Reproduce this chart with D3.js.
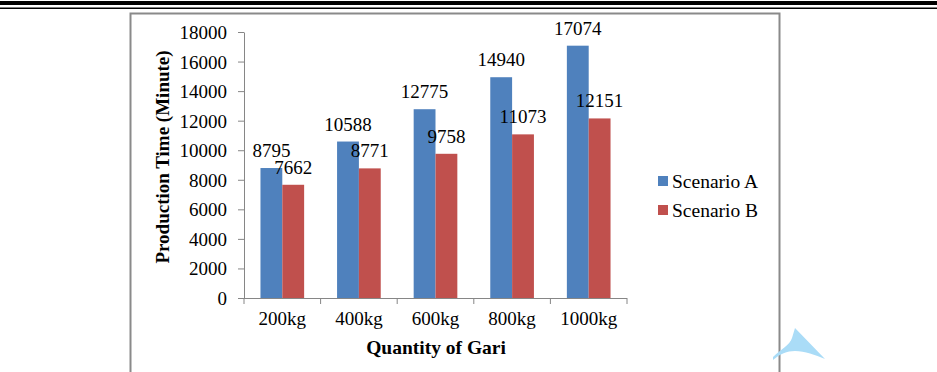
<!DOCTYPE html>
<html lang="en">
<head>
  <meta charset="UTF-8">
  <title>Production Time by Quantity of Gari</title>
  <script src="https://d3js.org/d3.v7.min.js"></script>
  <style>
    body { margin: 0; background: #fff; }
    svg { display: block; }
    .axis path, .axis line { stroke: #868686; }
  </style>
</head>
<body>
  <script>
    const categories = ["200kg", "400kg", "600kg", "800kg", "1000kg"];
    const seriesNames = ["Scenario A", "Scenario B"];
    const scenarioA = [8795, 10588, 12775, 14940, 17074];
    const scenarioB = [7662, 8771, 9758, 11073, 12151];
    const yTicks = [0, 2000, 4000, 6000, 8000, 10000, 12000, 14000, 16000, 18000];
    const colors = ["#4F81BD", "#C0504D"];

    const FONT = "'Liberation Serif', 'Times New Roman', Times, serif";
    const width = 937, height = 372;
    const plot = {left: 244, right: 627, top: 32, bottom: 298};

    const svg = d3.select("body").append("svg")
      .attr("width", width)
      .attr("height", height)
      .style("font-family", FONT);

    // page header rules
    svg.append("rect").attr("x", 0).attr("y", 1).attr("width", width).attr("height", 4).attr("fill", "#000");
    svg.append("rect").attr("x", 0).attr("y", 7.5).attr("width", width).attr("height", 1.5).attr("fill", "#000");

    // chart frame
    svg.append("rect")
      .attr("x", 130.5).attr("y", 13.5)
      .attr("width", 649).attr("height", 400)
      .attr("fill", "none")
      .attr("stroke", "#8a8a8a")
      .attr("stroke-width", 2);

    const x = d3.scaleBand()
      .domain(categories)
      .range([plot.left, plot.right])
      .paddingInner(0.43)
      .paddingOuter(0.215);

    const xs = d3.scaleBand()
      .domain(seriesNames)
      .range([0, x.bandwidth()]);

    const y = d3.scaleLinear()
      .domain([0, 18000])
      .range([plot.bottom, plot.top]);

    // y axis
    const yAxis = svg.append("g")
      .attr("class", "axis")
      .attr("transform", "translate(" + plot.left + ",0)")
      .call(d3.axisLeft(y).tickValues(yTicks).tickFormat(d3.format("d"))
        .tickSize(6).tickSizeOuter(0).tickPadding(11));
    yAxis.attr("font-family", null).attr("font-size", null);
    yAxis.selectAll("text")
      .style("font-family", FONT)
      .style("font-size", "19px")
      .attr("fill", "#000")
      .attr("dy", "0.34em");

    // x axis line with ticks between categories
    const step = x.step();
    const boundaries = categories.map(c => x(c) - (step - x.bandwidth()) / 2).concat([plot.right]);
    const xAxis = svg.append("g").attr("class", "axis");
    xAxis.append("line")
      .attr("x1", plot.left).attr("x2", plot.right)
      .attr("y1", plot.bottom + 0.5).attr("y2", plot.bottom + 0.5);
    xAxis.selectAll(".tick")
      .data(boundaries)
      .enter().append("line")
        .attr("x1", d => d).attr("x2", d => d)
        .attr("y1", plot.bottom).attr("y2", plot.bottom + 6);
    xAxis.selectAll(".cat")
      .data(categories)
      .enter().append("text")
        .attr("x", d => x(d) + x.bandwidth() / 2)
        .attr("y", 325)
        .attr("text-anchor", "middle")
        .style("font-family", FONT)
        .style("font-size", "19px")
        .text(d => d);

    // bars
    const rows = categories.map((c, i) => ({cat: c, values: [scenarioA[i], scenarioB[i]]}));
    const groups = svg.selectAll(".grp")
      .data(rows)
      .enter().append("g")
        .attr("transform", d => "translate(" + x(d.cat) + ",0)");

    groups.selectAll("rect")
      .data(d => d.values.map((v, j) => ({name: seriesNames[j], value: v, j: j})))
      .enter().append("rect")
        .attr("x", d => xs(d.name))
        .attr("y", d => y(d.value))
        .attr("width", xs.bandwidth())
        .attr("height", d => y(0) - y(d.value))
        .attr("fill", d => colors[d.j]);

    groups.selectAll(".lbl")
      .data(d => d.values.map((v, j) => ({name: seriesNames[j], value: v, j: j})))
      .enter().append("text")
        .attr("x", d => xs(d.name) + xs.bandwidth() / 2)
        .attr("y", d => y(d.value) - 11)
        .attr("text-anchor", "middle")
        .style("font-family", FONT)
        .style("font-size", "19px")
        .text(d => d.value);

    // axis titles
    svg.append("text")
      .attr("transform", "translate(169,157) rotate(-90)")
      .attr("text-anchor", "middle")
      .style("font-family", FONT)
      .style("font-size", "19px")
      .style("font-weight", "bold")
      .text("Production Time (Minute)");

    svg.append("text")
      .attr("x", 436).attr("y", 354)
      .attr("text-anchor", "middle")
      .style("font-family", FONT)
      .style("font-size", "19.5px")
      .style("font-weight", "bold")
      .text("Quantity of Gari");

    // legend
    const legend = svg.selectAll(".leg")
      .data(seriesNames)
      .enter().append("g")
        .attr("transform", (d, i) => "translate(658," + (181 + i * 29) + ")");
    legend.append("rect")
      .attr("x", 0).attr("y", -5)
      .attr("width", 10).attr("height", 10)
      .attr("fill", (d, i) => colors[i]);
    legend.append("text")
      .attr("x", 14).attr("y", 0)
      .attr("dy", "0.34em")
      .style("font-family", FONT)
      .style("font-size", "19.5px")
      .text(d => d);

    // decorative shape at bottom right
    svg.append("path")
      .attr("d", "M773,357 C780,350 790,345 792,338 L795,328 L825,359 C815,355 805,351 795,351 C787,351 780,354 773,360 Z")
      .attr("fill", "#aadcf7");
  </script>
</body>
</html>
